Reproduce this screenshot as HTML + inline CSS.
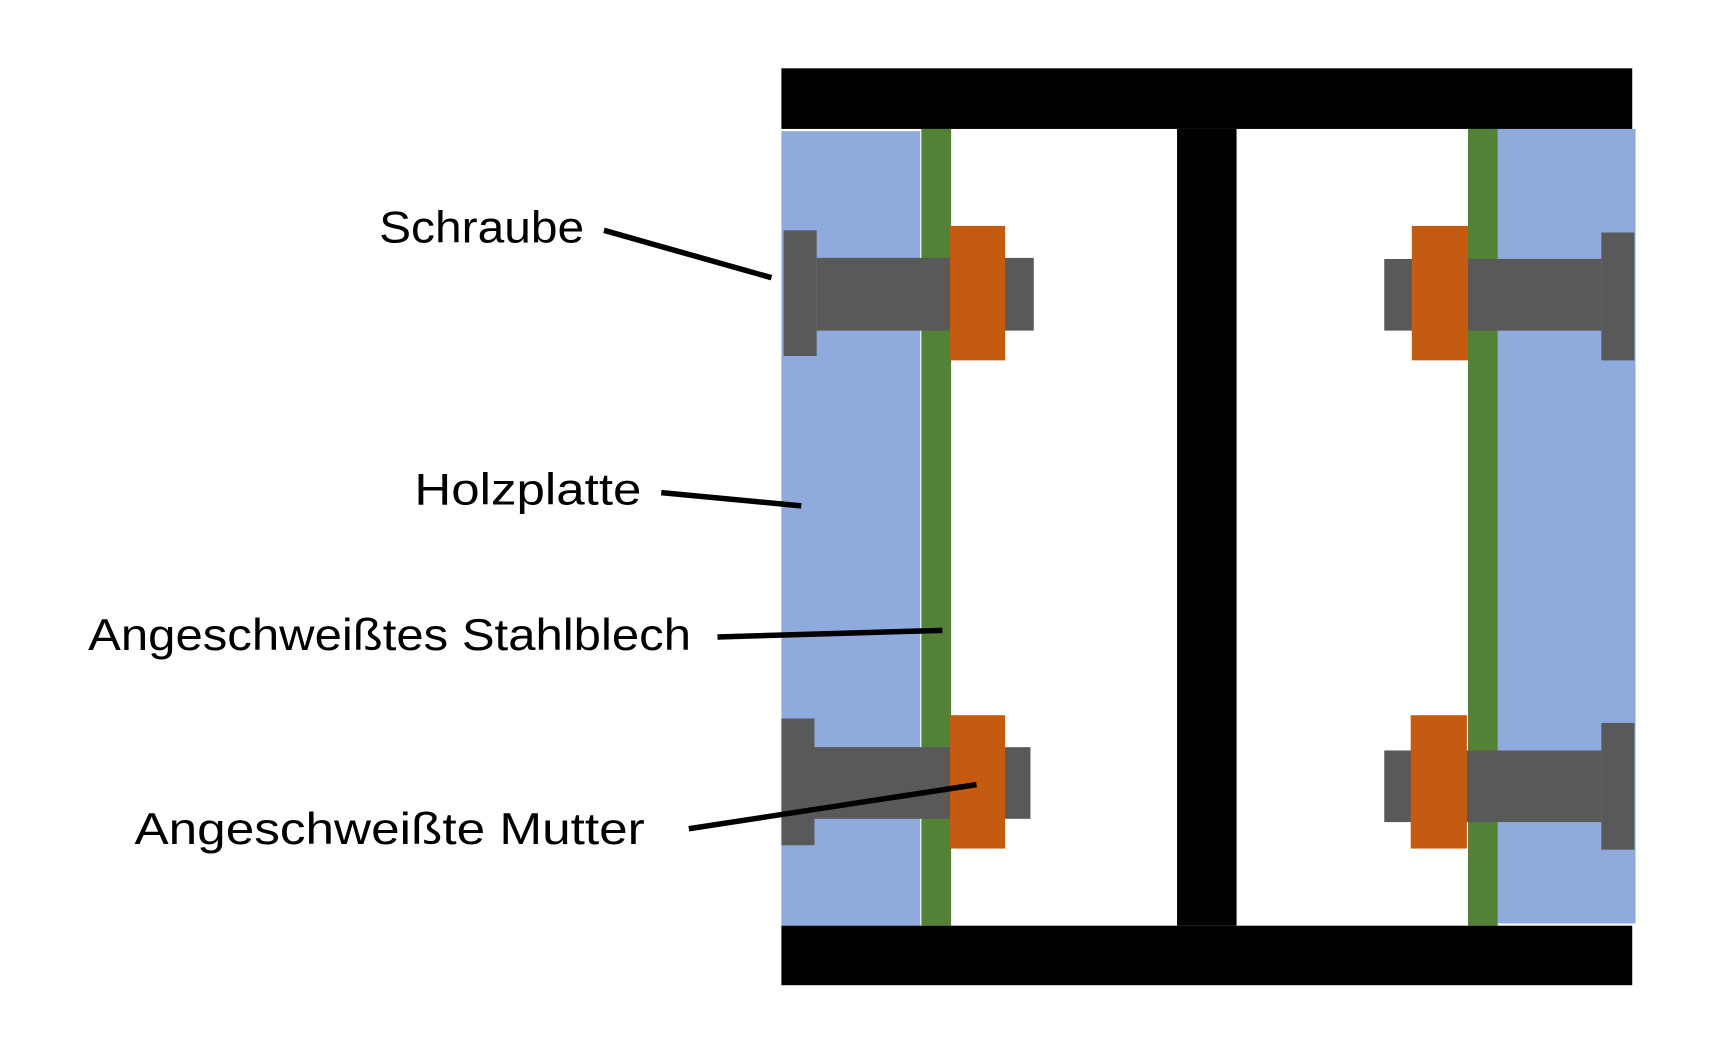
<!DOCTYPE html>
<html><head><meta charset="utf-8"><style>html,body{margin:0;padding:0;background:#fff;}svg{display:block;}</style></head>
<body>
<svg width="1727" height="1037" viewBox="0 0 1567 941" preserveAspectRatio="none" xmlns="http://www.w3.org/2000/svg">
<rect width="1567" height="941" fill="#fff"/>
<rect x="709" y="119" width="126" height="721" fill="#8FAADC"/>
<rect x="836" y="117" width="27" height="723" fill="#538135"/>
<rect x="1359" y="117" width="125" height="721" fill="#8FAADC"/>
<rect x="1332" y="117" width="27" height="723" fill="#538135"/>
<rect x="709" y="62" width="772" height="55" fill="#000"/>
<rect x="709" y="840" width="772" height="54" fill="#000"/>
<rect x="1068" y="117" width="54" height="723" fill="#000"/>
<g fill="#595959">
<rect x="711" y="209" width="30" height="114"/><rect x="741" y="234" width="197" height="66"/>
<rect x="709" y="652" width="30" height="115"/><rect x="739" y="678" width="196" height="65"/>
<rect x="1453" y="211" width="30" height="116"/><rect x="1256" y="235" width="197" height="65"/>
<rect x="1453" y="656" width="30" height="115"/><rect x="1256" y="681" width="197" height="65"/>
</g>
<g fill="#C55A11">
<rect x="862" y="205" width="50" height="122"/><rect x="862" y="649" width="50" height="121"/>
<rect x="1281" y="205" width="51" height="122"/><rect x="1280" y="649" width="51" height="121"/>
</g>
<g stroke="#000" stroke-width="5">
<line x1="548" y1="209" x2="700" y2="252"/>
<line x1="600" y1="447" x2="727" y2="459"/>
<line x1="651" y1="578" x2="855" y2="572"/>
<line x1="625" y1="752" x2="886" y2="712"/>
</g>
<g font-family="Liberation Sans, sans-serif" font-size="40" fill="#000" text-anchor="end">
<text x="530" y="220" textLength="186" lengthAdjust="spacingAndGlyphs">Schraube</text>
<text x="582" y="458" textLength="206" lengthAdjust="spacingAndGlyphs">Holzplatte</text>
<text x="627" y="590" textLength="547" lengthAdjust="spacingAndGlyphs">Angeschweißtes Stahlblech</text>
<text x="585" y="766" textLength="463" lengthAdjust="spacingAndGlyphs">Angeschweißte Mutter</text>
</g>
</svg>
</body></html>
